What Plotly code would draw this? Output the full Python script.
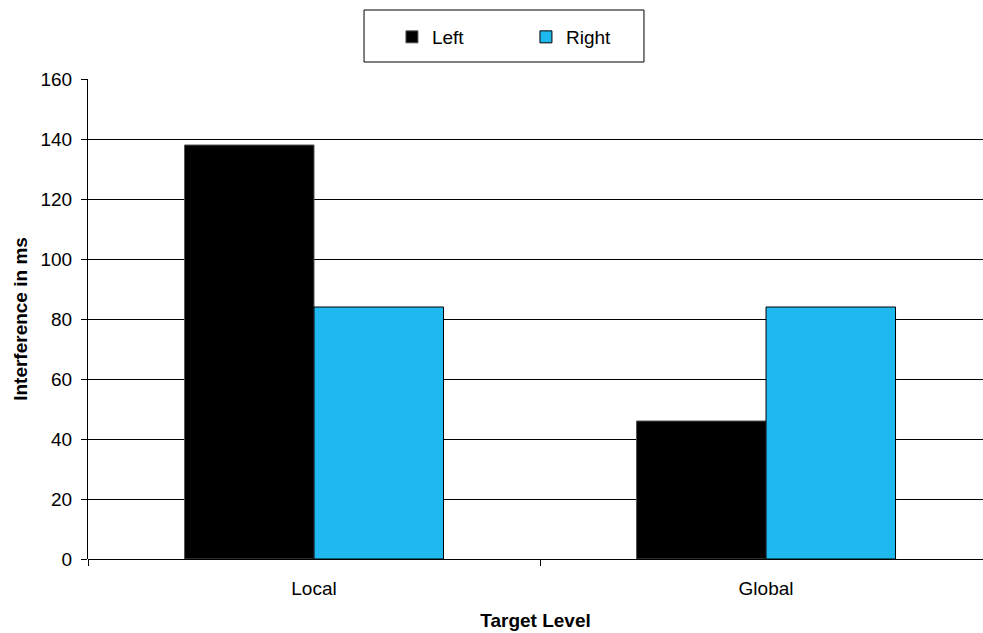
import plotly.graph_objects as go

# Interference (ms) by target level and visual field
categories = ["Local", "Global"]
left_values = [138, 46]
right_values = [84, 84]
y_ticks = [0, 20, 40, 60, 80, 100, 120, 140, 160]

font_family = "Liberation Sans, Arial, sans-serif"
text_size = 19
title_size = 19

fig = go.Figure()
fig.add_trace(go.Bar(
    name="Left", x=categories, y=left_values,
    marker=dict(color="#000000", line=dict(color="#555555", width=1)),
))
fig.add_trace(go.Bar(
    name="Right", x=categories, y=right_values,
    marker=dict(color="#1FB8EF", line=dict(color="#000000", width=1)),
))

fig.update_layout(
    width=983, height=633,
    margin=dict(l=88, r=0, t=79, b=74),
    paper_bgcolor="white", plot_bgcolor="white",
    font=dict(family=font_family, size=text_size, color="#000000"),
    barmode="group", bargap=0.427, bargroupgap=0,
    showlegend=True,
    legend=dict(
        orientation="h", x=0.3396, xanchor="left", y=1.0875, yanchor="middle",
        xref="paper", yref="paper",
        borderwidth=0, bgcolor="rgba(0,0,0,0)",
        entrywidth=89, font=dict(size=text_size),
        traceorder="normal",
    ),
    # frame around the legend
    shapes=[dict(
        type="rect", xref="paper", yref="paper",
        x0=0.3084, x1=0.6212, y0=1.0354, y1=1.14375,
        line=dict(color="#000000", width=1), fillcolor="rgba(0,0,0,0)",
        layer="below",
    )],
)

fig.update_xaxes(
    range=[-0.5, 1.480],
    showline=False, showgrid=False,
    ticks="outside", tickson="boundaries", ticklen=6, tickcolor="#000000",
    ticklabelstandoff=16,
    title=dict(text="<b>Target Level</b>", standoff=15, font=dict(size=title_size)),
    tickfont=dict(size=text_size),
)
fig.update_yaxes(
    range=[0, 160], tickvals=y_ticks,
    showline=True, linecolor="#000000", linewidth=1,
    showgrid=True, gridcolor="#000000", gridwidth=1,
    zeroline=True, zerolinecolor="#000000", zerolinewidth=1,
    ticks="outside", ticklen=6, tickcolor="#000000",
    ticklabelstandoff=5,
    title=dict(text="<b>Interference in ms</b>", standoff=7, font=dict(size=title_size)),
    tickfont=dict(size=text_size),
)

fig.write_html("out.html")
